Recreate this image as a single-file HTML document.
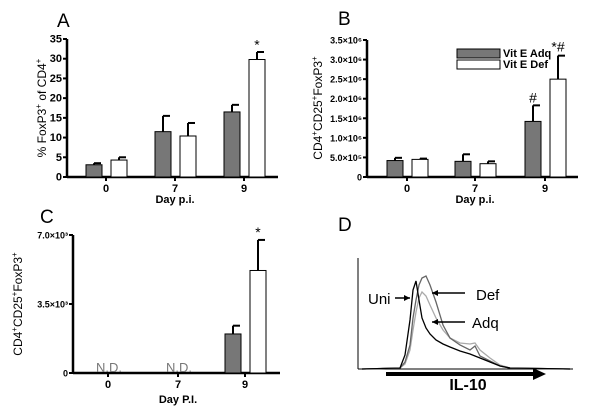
<!DOCTYPE html>
<html><head><meta charset="utf-8"><style>
html,body{margin:0;padding:0;background:#fff}
svg{display:block;font-family:"Liberation Sans",Arial,sans-serif}
</style></head><body>
<svg id="fig" width="600" height="415" viewBox="0 0 600 415">
<text x="57" y="27" font-size="19">A</text>
<text x="338" y="25" font-size="19">B</text>
<text x="40" y="223" font-size="19">C</text>
<text x="338" y="231" font-size="19">D</text>
<g id="pa"></g>
<g id="pb"></g>
<g id="pc"></g>
<g id="pd"></g>
</svg>
<script>
const categories = ["0","7","9"];
const aAdq = [3.1, 11.5, 16.5];
const aAdqErr = [0.4, 4.0, 1.8];
const aDef = [4.3, 10.4, 29.8];
const aDefErr = [0.7, 3.3, 1.9];
const aTicks = [0,5,10,15,20,25,30,35];
const bAdq = [0.42, 0.40, 1.42];
const bAdqErr = [0.07, 0.18, 0.41];
const bDef = [0.45, 0.34, 2.5];
const bDefErr = [0.02, 0.06, 0.6];
const bTicks = [0,0.5,1.0,1.5,2.0,2.5,3.0,3.5];
const bTickLabels = ["0","5.0\u00d710\u2075","1.0\u00d710\u2076","1.5\u00d710\u2076","2.0\u00d710\u2076","2.5\u00d710\u2076","3.0\u00d710\u2076","3.5\u00d710\u2076"];
const cAdq = [null, null, 1.98];
const cAdqErr = [0, 0, 0.42];
const cDef = [null, null, 5.2];
const cDefErr = [0, 0, 1.55];
const cTicks = [0,3.5,7.0];
const cTickLabels = ["0","3.5\u00d710\u00b3","7.0\u00d710\u00b3"];
const histX = [400,405,410,413,416,419,422,426,430,436,443,450,460,470,475,480,490,500,510];
const uniY = [368,355,320,290,281,300,318,328,334,340,344,347,351,354,356,358,362,366,368];
const defY = [368,362,345,318,300,285,278,276,285,302,325,338,345,350,346,356,361,366,368];
const adqY = [368,364,350,330,312,298,292,296,305,318,330,338,343,344,343,350,358,365,368];

const NS="http://www.w3.org/2000/svg";
function mk(p,t,a){const e=document.createElementNS(NS,t);for(const k in a)e.setAttribute(k,a[k]);p.appendChild(e);return e;}

function barPanel(g, o){
  const y=v=>o.y0-(v/o.max)*(o.y0-o.yTop);
  const x=i=>o.cx[i];
  const ya=mk(g,'line',{x1:o.ax,y1:o.yTop,x2:o.ax,y2:o.y0,stroke:'#000','stroke-width':2.5});
  
  
  const xa=mk(g,'line',{x1:o.ax,y1:o.y0,x2:o.xEnd,y2:o.y0,stroke:'#000','stroke-width':2.5});
  
  
  o.ticks.forEach((t,i)=>{
    mk(g,'line',{x1:o.ax-4,y1:y(t),x2:o.ax,y2:y(t),stroke:'#000','stroke-width':2});
    const tl=mk(g,'text',{x:o.ax-5,y:y(t)+3.5,'font-size':o.tfs,'text-anchor':'end','font-weight':'bold'});
    tl.textContent=o.tlab?o.tlab[i]:String(t);
    
    
  });
  categories.forEach((c,i)=>{
    mk(g,'line',{x1:x(i),y1:o.y0,x2:x(i),y2:o.y0+4,stroke:'#000','stroke-width':2});
    const l=mk(g,'text',{x:x(i),y:o.y0+15,'font-size':11,'font-weight':'bold','text-anchor':'middle'});
    l.textContent=c;
    
    
    [[o.adq,o.adqE,-20,'#777','adq'],[o.def,o.defE,5,'#fff','def']].forEach(s=>{
      const v=s[0][i]; if(v==null) return;
      const bx=x(i)+s[2];
      const top=y(v), et=y(v+s[1][i]);
      mk(g,'line',{x1:bx+8,y1:top,x2:bx+8,y2:et,stroke:'#000','stroke-width':2});
      mk(g,'line',{x1:bx+8,y1:et,x2:bx+15,y2:et,stroke:'#000','stroke-width':2});
      const r=mk(g,'rect',{x:bx,y:top,width:16,height:o.y0-top,fill:s[3],stroke:'#000','stroke-width':1});
      
      
    });
  });
  const xt=mk(g,'text',{x:o.xtX,y:o.xtY,'font-size':11,'font-weight':'bold','text-anchor':'middle'});
  xt.textContent=o.xtitle;
  
  
  const yt=mk(g,'text',{x:0,y:0,'font-size':12,'text-anchor':'middle',transform:`translate(${o.ytX},${o.ytY}) rotate(-90)`});
  yt.innerHTML=o.ytitle;
  
  
  return {x,y};
}
const A=barPanel(document.getElementById('pa'),{ax:67,y0:177,yTop:39,max:35,xEnd:278,cx:[106,175,244],ticks:aTicks,tfs:11,adq:aAdq,adqE:aAdqErr,def:aDef,defE:aDefErr,xtitle:'Day p.i.',xtX:175,xtY:203,ytX:46,ytY:108,ytitle:'% FoxP3<tspan font-size="8" dy="-5">+</tspan><tspan dy="5"> of CD4</tspan><tspan font-size="8" dy="-5">+</tspan>'});
let s=mk(document.getElementById('pa'),'text',{x:A.x(2)+13,y:A.y(32.3),'font-size':14,'text-anchor':'middle'});s.textContent='*';


const B=barPanel(document.getElementById('pb'),{ax:367,y0:177,yTop:40,max:3.5,xEnd:578,cx:[407,475,545],ticks:bTicks,tlab:bTickLabels,tfs:9,adq:bAdq,adqE:bAdqErr,def:bDef,defE:bDefErr,xtitle:'Day p.i.',xtX:475,xtY:203,ytX:322,ytY:108,ytitle:'CD4<tspan font-size="8" dy="-5">+</tspan><tspan dy="5">CD25</tspan><tspan font-size="8" dy="-5">+</tspan><tspan dy="5">FoxP3</tspan><tspan font-size="8" dy="-5">+</tspan>'});
const pb=document.getElementById('pb');
[[B.x(2)-12,B.y(1.9),'#'],[B.x(2)+13,B.y(3.2),'*#']].forEach(a=>{const t=mk(pb,'text',{x:a[0],y:a[1],'font-size':14,'text-anchor':'middle'});t.textContent=a[2];

});
mk(pb,'rect',{x:457,y:49,width:43,height:9,fill:'#777',stroke:'#000'});
mk(pb,'rect',{x:457,y:60,width:43,height:9,fill:'#fff',stroke:'#000'});
[['Vit E Adq',57],['Vit E Def',68]].forEach(a=>{const t=mk(pb,'text',{x:503,y:a[1],'font-size':11,'font-weight':'bold'});t.textContent=a[0];

});
const C=barPanel(document.getElementById('pc'),{ax:73,y0:373,yTop:235,max:7.0,xEnd:280,cx:[108,178,245],ticks:cTicks,tlab:cTickLabels,tfs:9,adq:cAdq,adqE:cAdqErr,def:cDef,defE:cDefErr,xtitle:'Day P.I.',xtX:178,xtY:403,ytX:22,ytY:304,ytitle:'CD4<tspan font-size="8" dy="-5">+</tspan><tspan dy="5">CD25</tspan><tspan font-size="8" dy="-5">+</tspan><tspan dy="5">FoxP3</tspan><tspan font-size="8" dy="-5">+</tspan>'});
const pc=document.getElementById('pc');
s=mk(pc,'text',{x:C.x(2)+13,y:C.y(6.9),'font-size':14,'text-anchor':'middle'});s.textContent='*';


[0,1].forEach(i=>{const t=mk(pc,'text',{x:C.x(i)+1,y:372,'font-size':13,'text-anchor':'middle',fill:'#777'});t.textContent='N.D.';

});

const pd=document.getElementById('pd');
mk(pd,'line',{x1:358,y1:258,x2:358,y2:369,stroke:'#000','stroke-width':1});
mk(pd,'line',{x1:358,y1:369,x2:573,y2:369,stroke:'#000','stroke-width':1});
[[adqY,'#aaa','adq-curve'],[defY,'#666','def-curve'],[uniY,'#000','uni-curve']].forEach(c=>{
  const d=histX.map((xx,i)=>(i?'L':'M')+xx+','+c[0][i]).join(' ');
  const p=mk(pd,'path',{d:'M362,369 L'+histX[0]+','+c[0][0]+' '+d.slice(1)+' L570,369',fill:'none',stroke:c[1],'stroke-width':1.3});
  
  
});
mk(pd,'line',{x1:386,y1:374,x2:535,y2:374,stroke:'#000','stroke-width':4});
mk(pd,'polygon',{points:'533,368 546,374 533,380',fill:'#000'});
let t=mk(pd,'text',{x:468,y:390,'font-size':16,'font-weight':'bold','text-anchor':'middle'});t.textContent='IL-10';


[['Uni',368,304,395,298,410,298],['Def',476,300,465,293,432,293],['Adq',472,328,465,322,432,322]].forEach(a=>{
  const l=mk(pd,'text',{x:a[1],y:a[2],'font-size':15});l.textContent=a[0];
  
  
  mk(pd,'line',{x1:a[3],y1:a[4],x2:a[5],y2:a[6],stroke:'#000','stroke-width':1.5});
  const dir=a[5]>a[3]?1:-1;
  mk(pd,'polygon',{points:`${a[5]},${a[6]} ${a[5]-6*dir},${a[6]-3} ${a[5]-6*dir},${a[6]+3}`,fill:'#000'});
});
</script>
</body></html>
